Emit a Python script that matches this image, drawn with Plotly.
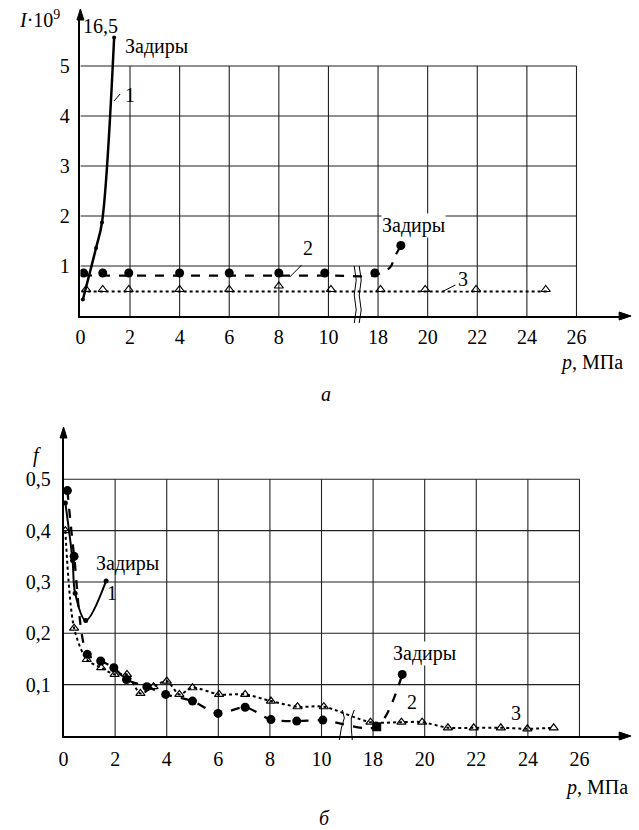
import plotly.graph_objects as go

W, H = 639, 830
FONT = "Liberation Serif, DejaVu Serif, serif"
FS = 20

# ---------------- data ----------------
x_tick_p = [0, 2, 4, 6, 8, 10, 18, 20, 22, 24, 26]

# panel a: wear intensity I*10^9
a_I_ticks = [1, 2, 3, 4, 5]
a_p1 = [0.1, 0.63, 0.87, 1.36]
a_I1 = [0.33, 1.36, 1.87, 5.57]          # last point drawn at top (value 16,5)
a_p2 = [0.13, 0.9, 1.95, 4.0, 6.0, 8.0, 9.85, 17.87, 18.92]
a_I2 = [0.86, 0.86, 0.86, 0.86, 0.86, 0.86, 0.86, 0.86, 1.41]
a_p2_fit = [0.1, 9.85, 17.87, 18.48, 18.68, 18.92]
a_I2_fit = [0.81, 0.81, 0.82, 0.97, 1.19, 1.41]
a_p3 = [0.23, 0.9, 1.95, 4.0, 6.0, 8.0, 10.1, 18.1, 19.9, 21.95, 24.76]
a_I3 = [0.53, 0.53, 0.53, 0.53, 0.53, 0.6, 0.53, 0.53, 0.53, 0.53, 0.53]
a_p3_fit = [0.05, 10.1, 18.1, 24.85]
a_I3_fit = [0.49, 0.49, 0.49, 0.49]

# panel b: friction coefficient f
b_f_ticks = [0.1, 0.2, 0.3, 0.4, 0.5]
b_f_text = ["0,1", "0,2", "0,3", "0,4", "0,5"]
b_p1 = [0.07, 0.35, 0.45, 0.86, 1.65]
b_f1 = [0.454, 0.342, 0.278, 0.225, 0.302]
b_p2 = [0.15, 0.41, 0.92, 1.44, 1.95, 2.44, 3.23, 3.96, 5.0, 5.99, 7.04, 8.04, 9.04, 10.05, 18.14, 19.13]
b_f2 = [0.478, 0.35, 0.159, 0.146, 0.133, 0.11, 0.096, 0.081, 0.068, 0.044, 0.056, 0.032, 0.029, 0.031, 0.018, 0.12]
b_p3 = [0.07, 0.41, 0.9, 1.46, 1.98, 2.46, 2.98, 3.49, 4.0, 4.49, 5.0, 6.03, 7.04, 8.04, 9.07, 10.09,
        17.9, 19.1, 19.9, 20.9, 21.9, 22.95, 23.98, 25.0]
b_f3 = [0.40, 0.21, 0.149, 0.133, 0.12, 0.12, 0.083, 0.096, 0.107, 0.081, 0.094, 0.081, 0.081, 0.068, 0.057, 0.057,
        0.027, 0.027, 0.027, 0.016, 0.016, 0.016, 0.014, 0.016]


# broken axis: 10..18 MPa squeezed into one tick interval
def to_u(ps):
    return [v if v <= 10.5 else v - 6 for v in ps]


x_tick_u = to_u(x_tick_p)
x_tick_text = [str(v) for v in x_tick_p]


def px(x):
    return x / W


def py(y):
    return 1 - y / H


# ---------------- geometry (pixels) ----------------
A_X0, A_PXU, A_XR = 76, 25.0, 620
A_Y0, A_PYU, A_YT = 316, 50.0, 18
B_X0, B_PXU, B_XR = 59, 26.0, 620
B_Y0, B_PYU, B_YT = 736, 513.4, 436

fig = go.Figure()

black = "black"
# panel a traces
fig.add_trace(go.Scatter(x=to_u(a_p1), y=a_I1, mode="lines+markers", line=dict(color=black, width=2.5, shape="spline"),
                         marker=dict(size=4, color=black), xaxis="x", yaxis="y", cliponaxis=False))
fig.add_trace(go.Scatter(x=to_u(a_p2_fit), y=a_I2_fit, mode="lines", line=dict(color=black, width=2.2, dash="dash", shape="spline"),
                         xaxis="x", yaxis="y"))
fig.add_trace(go.Scatter(x=to_u(a_p2), y=a_I2, mode="markers", marker=dict(size=9, color=black), xaxis="x", yaxis="y"))
fig.add_trace(go.Scatter(x=to_u(a_p3_fit), y=a_I3_fit, mode="lines", line=dict(color=black, width=2, dash="dot"),
                         xaxis="x", yaxis="y"))
fig.add_trace(go.Scatter(x=to_u(a_p3), y=a_I3, mode="markers",
                         marker=dict(size=8, symbol="triangle-up-open", color=black, line=dict(width=1.2)),
                         xaxis="x", yaxis="y"))

# panel b traces
fig.add_trace(go.Scatter(x=to_u(b_p3), y=b_f3, mode="lines+markers", line=dict(color=black, width=2, dash="dot", shape="spline", smoothing=0.8),
                         marker=dict(size=8, symbol="triangle-up-open", color=black, line=dict(width=1.2)),
                         xaxis="x2", yaxis="y2"))
sym2 = ["circle"] * len(b_p2)
sym2[-2] = "square"
fig.add_trace(go.Scatter(x=to_u(b_p2), y=b_f2, mode="lines+markers", line=dict(color=black, width=2.3, dash="dash", shape="spline", smoothing=0.8),
                         marker=dict(size=9, color=black, symbol=sym2), xaxis="x2", yaxis="y2"))
fig.add_trace(go.Scatter(x=to_u(b_p1), y=b_f1, mode="lines+markers", line=dict(color=black, width=2, shape="spline"),
                         marker=dict(size=5, color=black), xaxis="x2", yaxis="y2"))

shapes = []
grid = dict(color="#222", width=1.1)
# grid panel a
for v in a_I_ticks:
    shapes.append(dict(type="line", xref="x", yref="y", x0=0, x1=x_tick_u[-1], y0=v, y1=v, line=grid, layer="below"))
for u in x_tick_u[1:]:
    shapes.append(dict(type="line", xref="x", yref="y", x0=u, x1=u, y0=0, y1=a_I_ticks[-1], line=grid, layer="below"))
# grid panel b
for v in b_f_ticks:
    shapes.append(dict(type="line", xref="x2", yref="y2", x0=0, x1=x_tick_u[-1], y0=v, y1=v, line=grid, layer="below"))
for u in x_tick_u[1:]:
    shapes.append(dict(type="line", xref="x2", yref="y2", x0=u, x1=u, y0=0, y1=b_f_ticks[-1], line=grid, layer="below"))


def path(points):
    s = "M {} {}".format(px(points[0][0]), py(points[0][1]))
    for (x, y) in points[1:]:
        s += " L {} {}".format(px(x), py(y))
    return s


def tri(points):
    return path(points) + " Z"


# arrowheads
for pts in ([(A_X0, 9), (A_X0 - 3.5, 20), (A_X0 + 3.5, 20)],
            [(631, A_Y0), (619, A_Y0 - 4), (619, A_Y0 + 4)],
            [(B_X0, 427), (B_X0 - 3.5, 438), (B_X0 + 3.5, 438)],
            [(631, B_Y0), (619, B_Y0 - 4), (619, B_Y0 + 4)]):
    shapes.append(dict(type="path", xref="paper", yref="paper", path=tri(pts), fillcolor=black, line=dict(color=black, width=1)))

# break symbols
for pts in ([(352, 266), (354, 280), (352, 295), (354, 310), (352, 323)],
            [(357, 266), (359, 280), (357, 295), (359, 310), (357, 323)],
            [(340, 710), (342, 718), (339, 728), (337, 740)],
            [(352, 710), (349, 718), (349, 728), (350, 740)]):
    shapes.append(dict(type="path", xref="paper", yref="paper", path=path(pts), line=dict(color=black, width=1)))

# leader lines
for pts in ([(110, 101), (116, 94)], [(287, 277), (299, 265)], [(440, 292), (454, 285)]):
    shapes.append(dict(type="path", xref="paper", yref="paper", path=path(pts), line=dict(color=black, width=1)))

ann = []


def label(text, x, y, size=FS, bg=None, xanchor="center"):
    d = dict(text=text, x=px(x), y=py(y), xref="paper", yref="paper", showarrow=False,
             font=dict(family=FONT, size=size, color=black), xanchor=xanchor, yanchor="middle")
    if bg:
        d["bgcolor"] = bg
        d["borderpad"] = 0
    ann.append(d)


label("<i>I</i>·10<sup>9</sup>", 12, 19, xanchor="left")
label("16,5", 96, 26)
label("Задиры", 153, 47)
label("1", 126, 95)
label("2", 305, 248)
label("Задиры", 412, 226, bg="white")
label("3", 462, 279, bg="white")
label("<i>p</i>, МПа", 591, 362)
label("<i>а</i>", 324, 394)

label("<i>f</i>", 32, 455)
label("Задиры", 123, 563)
label("1", 108, 593)
label("Задиры", 423, 653, bg="white")
label("2", 410, 702, bg="white")
label("3", 515, 713, bg="white")
label("<i>p</i>, МПа", 596, 787)
label("<i>б</i>", 322, 818)

axis_common = dict(showgrid=False, zeroline=False, showline=True, linecolor=black, linewidth=1.5,
                   tickfont=dict(family=FONT, size=FS, color=black), ticks="outside",
                   tickcolor="rgba(0,0,0,0)", fixedrange=True)

fig.update_layout(
    width=W, height=H, margin=dict(l=0, r=0, t=0, b=0),
    paper_bgcolor="white", plot_bgcolor="white", showlegend=False,
    font=dict(family=FONT, size=FS, color=black),
    xaxis=dict(domain=[px(A_X0), px(A_XR)], range=[0, (A_XR - A_X0) / A_PXU], anchor="y",
               tickvals=x_tick_u, ticktext=x_tick_text, ticklen=2, **axis_common),
    yaxis=dict(domain=[py(A_Y0), py(A_YT)], range=[0, (A_Y0 - A_YT) / A_PYU], anchor="x",
               tickvals=a_I_ticks, ticktext=[str(v) for v in a_I_ticks], ticklen=5, **axis_common),
    xaxis2=dict(domain=[px(B_X0), px(B_XR)], range=[0, (B_XR - B_X0) / B_PXU], anchor="y2",
                tickvals=x_tick_u, ticktext=x_tick_text, ticklen=4, **axis_common),
    yaxis2=dict(domain=[py(B_Y0), py(B_YT)], range=[0, (B_Y0 - B_YT) / B_PYU], anchor="x2",
                tickvals=b_f_ticks, ticktext=b_f_text, ticklen=7, **axis_common),
    shapes=shapes, annotations=ann,
)

fig.write_html("out.html", config={"displayModeBar": False},
               post_script="document.body.style.margin='0';document.body.style.overflow='hidden';")
